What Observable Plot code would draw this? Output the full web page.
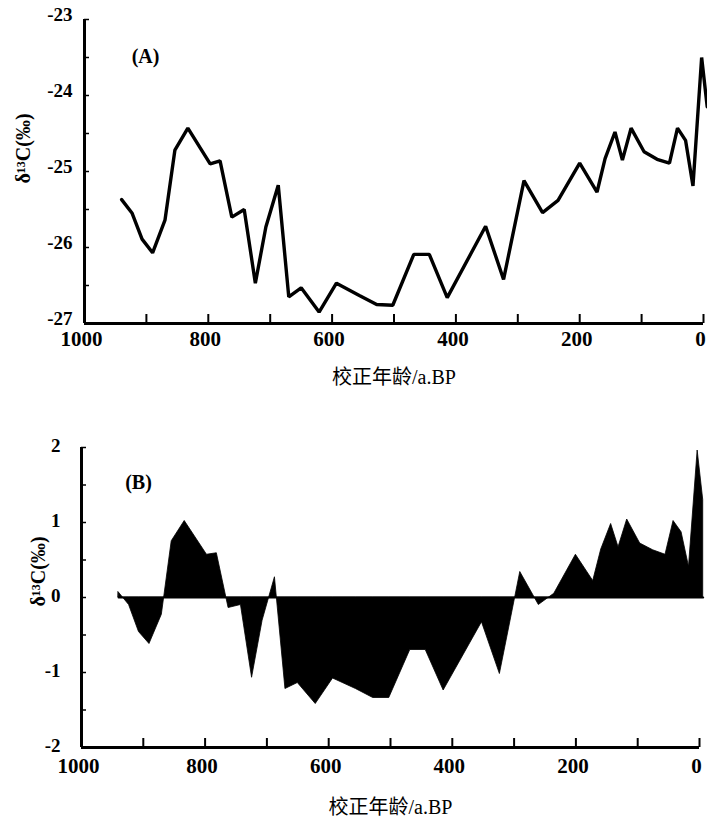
<!DOCTYPE html>
<html>
<head>
<meta charset="utf-8">
<script src="https://cdn.jsdelivr.net/npm/d3@7"></script>
<script src="https://cdn.jsdelivr.net/npm/@observablehq/plot@0.6"></script>
<style>
  html, body { margin: 0; padding: 0; background: #fff; }
  #wrap { width: 707px; }
  #wrap svg { display: block; }
</style>
</head>
<body>
<div id="wrap"></div>
<script>
// ---- data ----
const years = [940, 923, 907, 890, 870, 854, 833, 797, 781, 762, 742, 724, 707, 687, 670, 650, 621, 593, 556, 528, 502, 468, 443, 414, 352, 323, 290, 260, 235, 200, 172, 159, 143, 131, 117, 96, 75, 55, 42, 29, 17, 3, -6];
const d13C = [-25.37, -25.55, -25.89, -26.07, -25.64, -24.72, -24.43, -24.90, -24.86, -25.60, -25.50, -26.47, -25.73, -25.18, -26.65, -26.53, -26.85, -26.47, -26.63, -26.75, -26.76, -26.09, -26.09, -26.66, -25.72, -26.42, -25.12, -25.54, -25.38, -24.89, -25.27, -24.83, -24.48, -24.85, -24.43, -24.74, -24.84, -24.89, -24.43, -24.59, -25.19, -23.50, -24.15];
const anomaly = [0.07, -0.10, -0.46, -0.62, -0.23, 0.75, 1.02, 0.57, 0.59, -0.14, -0.10, -1.07, -0.31, 0.27, -1.22, -1.14, -1.42, -1.08, -1.22, -1.34, -1.34, -0.70, -0.70, -1.24, -0.33, -1.02, 0.34, -0.10, 0.05, 0.57, 0.22, 0.64, 0.98, 0.67, 1.04, 0.72, 0.63, 0.57, 1.02, 0.87, 0.41, 1.96, 1.30];

const xTicks = [1000, 800, 600, 400, 200, 0];
const xMinorTicks = [1000, 900, 800, 700, 600, 500, 400, 300, 200, 100, 0];
const yTicksA = [-23, -24, -25, -26, -27];
const yMinorA = [-23, -23.5, -24, -24.5, -25, -25.5, -26, -26.5, -27];
const yTicksB = [2, 1, 0, -1, -2];
const yMinorB = [2, 1.5, 1, 0.5, 0, -0.5, -1, -1.5, -2];
const xTitle = "校正年龄/a.BP";
const yTitle = "δ¹³C(‰)";
const panelA = "(A)";
const panelB = "(B)";

const dataA = years.map((t, i) => ({year: t, v: d13C[i]}));
const dataB = years.map((t, i) => ({year: t, v: anomaly[i]}));

const serif = "'Liberation Serif', 'Times New Roman', serif";
const cjk = "'Liberation Serif', 'Noto Sans CJK SC', serif";

function panel({data, yDomain, yTicks, yMinor, width, height, mt, mb, ml, mr, ytPad, ytDy, xtPad, titleDy, ylab, plab, area}) {
  const fw = width - ml - mr;
  const fh = height - mt - mb;
  const marks = [];
  if (area) {
    marks.push(Plot.areaY(data, {x: "year", y: "v", fill: "#000", stroke: "#000", strokeWidth: 0.8}));
    marks.push(Plot.lineY(data, {x: "year", y: 0, stroke: "#000", strokeWidth: 2}));
  } else {
    marks.push(Plot.lineY(data, {x: "year", y: "v", stroke: "#000", strokeWidth: 3.4, strokeLinejoin: "miter"}));
  }
  marks.push(
    Plot.ruleX([xTicks[0]], {stroke: "#000", strokeWidth: 3}),
    Plot.ruleY([yDomain[0]], {stroke: "#000", strokeWidth: 3}),
    Plot.ruleX(xMinorTicks, {x: d => d, insetTop: fh - 9, stroke: "#000", strokeWidth: 2}),
    Plot.ruleY(yMinor, {y: d => d, insetRight: fw - 5, stroke: "#000", strokeWidth: 1.5}),
    Plot.axisX({ticks: xTicks, tickSize: 0, tickPadding: xtPad, dx: -3, tickFormat: d => String(d), label: null,
      fontSize: 21, fontWeight: "bold", fontFamily: serif}),
    Plot.axisY({ticks: yTicks, tickSize: 0, tickPadding: ytPad, dy: ytDy, tickFormat: d => String(d), label: null,
      fontSize: 19, fontWeight: "bold", fontFamily: serif}),
    Plot.text([xTitle], {text: d => d, frameAnchor: "bottom", textAnchor: "middle", lineAnchor: "middle", dy: titleDy, fontSize: 20,
      fontFamily: cjk, fill: "#000", style: "letter-spacing:3px"}),
    Plot.text([yTitle], {text: d => d, frameAnchor: "left", textAnchor: "middle", lineAnchor: "middle", dx: ylab[0], dy: ylab[1], rotate: -90,
      fontSize: 20, fontWeight: "bold", fontFamily: serif, fill: "#000"}),
    Plot.text([plab.text], {text: d => d, frameAnchor: "top-left", textAnchor: "middle", lineAnchor: "middle", dx: plab.dx, dy: plab.dy,
      fontSize: 20, fontWeight: "bold", fontFamily: serif, fill: "#000"})
  );
  return Plot.plot({
    width, height,
    marginTop: mt, marginBottom: mb, marginLeft: ml, marginRight: mr,
    style: {fontFamily: serif, color: "#000", background: "#fff", overflow: "visible"},
    x: {domain: [1000, 0]},
    y: {domain: yDomain},
    marks
  });
}

const wrap = document.getElementById("wrap");
wrap.appendChild(panel({
  data: dataA, yDomain: [-27, -23], yTicks: yTicksA, yMinor: yMinorA,
  width: 707, height: 400, mt: 19, mb: 77, ml: 84, mr: 4,
  ytPad: 12, ytDy: -5, xtPad: 8, titleDy: 54, ylab: [-61, -23], plab: {text: panelA, dx: 61, dy: 37}
}));
wrap.appendChild(panel({
  data: dataB, yDomain: [-2, 2], yTicks: yTicksB, yMinor: yMinorB,
  width: 707, height: 417, mt: 47, mb: 70, ml: 81, mr: 8,
  ytPad: 21, ytDy: -2, xtPad: 11, titleDy: 60, ylab: [-43, -26], plab: {text: panelB, dx: 57, dy: 35}, area: true
}));
</script>
</body>
</html>
